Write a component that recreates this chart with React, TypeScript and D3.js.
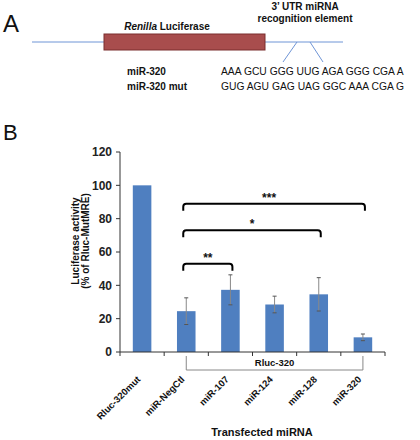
import React from 'react';
import * as d3 from 'd3';

// panel B data
const categories = ['Rluc-320mut', 'miR-NegCtl', 'miR-107', 'miR-124', 'miR-128', 'miR-320'];
const means = [100, 24.5, 37.3, 28.5, 34.6, 8.8];
const errors = [0, 8, 9, 5, 10, 2];
const yTicks = [0, 20, 40, 60, 80, 100, 120];
const brackets = [
  { from: 'miR-NegCtl', to: 'miR-107', level: 53, label: '**' },
  { from: 'miR-NegCtl', to: 'miR-128', level: 73, label: '*' },
  { from: 'miR-NegCtl', to: 'miR-320', level: 89, label: '***' },
];
const groupFrom = 'miR-NegCtl';
const groupTo = 'miR-320';
const groupLabel = 'Rluc-320';

// panel A text
const seqWild = 'AAA GCU GGG UUG AGA GGG CGA A';
const seqMut = 'GUG AGU GAG UAG GGC AAA CGA G';

const FONT = 'Liberation Sans, Arial, sans-serif';
const NARROW = '"Liberation Sans Narrow", "Arial Narrow", Liberation Sans, sans-serif';
const BLUE = '#4f7fc0';

export default function App() {
  const W = 420, H = 440;
  const left = 120, right = 385, top = 152, bottom = 352;

  const x = d3.scaleBand<string>().domain(categories).range([left, right])
    .paddingInner(0.58).paddingOuter(0.29);
  const y = d3.scaleLinear().domain([0, 120]).range([bottom, top]);
  const cx = (c: string) => (x(c) ?? 0) + x.bandwidth() / 2;
  const step = x.step();

  const bracketPath = (x1: number, x2: number, yy: number) => {
    const r = 3, leg = 7;
    return `M${x1},${yy + leg} L${x1},${yy + r} Q${x1},${yy} ${x1 + r},${yy} L${x2 - r},${yy} Q${x2},${yy} ${x2},${yy + r} L${x2},${yy + leg}`;
  };

  return (
    <svg width={W} height={H} style={{ position: 'absolute', left: 0, top: 0, background: '#fff' }}
      fontFamily={FONT}>
      {/* Panel A */}
      <text x={3} y={32} fontSize={24} fill="#111">A</text>
      <line x1={32} x2={343} y1={42} y2={42} stroke="#6f95d6" strokeWidth={1} />
      <rect x={104} y={34} width={161} height={16} fill="#a84d4d" stroke="#7a2e2e" strokeWidth={1} />
      <text x={167} y={30} fontSize={10} textAnchor="middle" fontWeight="bold" fill="#111">
        <tspan fontStyle="italic">Renilla</tspan> Luciferase
      </text>
      <text x={305} y={10} fontSize={10} textAnchor="middle" fontWeight="bold" fill="#111">3’ UTR miRNA</text>
      <text x={305} y={22} fontSize={10} textAnchor="middle" fontWeight="bold" fill="#111">recognition element</text>
      <line x1={297} y1={42} x2={283} y2={62} stroke="#6f95d6" strokeWidth={1} />
      <line x1={310} y1={42} x2={323} y2={62} stroke="#6f95d6" strokeWidth={1} />
      <text x={127} y={75} fontSize={10} fontWeight="bold" fill="#111">miR-320</text>
      <text x={127} y={90} fontSize={10} fontWeight="bold" fill="#111">miR-320 mut</text>
      <text x={221} y={75} fontSize={10.3} fill="#111">{seqWild}</text>
      <text x={221} y={90} fontSize={10.3} fill="#111">{seqMut}</text>

      {/* Panel B */}
      <text x={3} y={140} fontSize={22} fill="#111">B</text>

      {/* y axis */}
      <line x1={left} x2={left} y1={top} y2={bottom} stroke="#333" />
      {yTicks.map(t => (
        <g key={t}>
          <line x1={left - 4} x2={left} y1={y(t)} y2={y(t)} stroke="#333" />
          <text x={left - 8} y={y(t)} dy="0.35em" textAnchor="end" fontSize={12} fontWeight="bold"
            fontFamily={NARROW} fill="#222">{t}</text>
        </g>
      ))}
      <text transform={`translate(79,241) rotate(-90)`} textAnchor="middle"
        fontSize={10} fontWeight="bold" fill="#111">Luciferase activity</text>
      <text transform={`translate(89,241) rotate(-90)`} textAnchor="middle"
        fontSize={10} fontWeight="bold" fill="#111">(% of Rluc-MutMRE)</text>

      {/* bars */}
      {categories.map((c, i) => (
        <rect key={c} x={x(c)} y={y(means[i])} width={x.bandwidth()} height={bottom - y(means[i])}
          fill={BLUE} />
      ))}
      {/* error bars */}
      {categories.map((c, i) => errors[i] > 0 && (
        <g key={c} stroke="#555" strokeWidth={1}>
          <line x1={cx(c)} x2={cx(c)} y1={y(means[i] + errors[i])} y2={y(means[i] - errors[i])} stroke="#888" />
          <line x1={cx(c) - 2} x2={cx(c) + 2} y1={y(means[i] + errors[i])} y2={y(means[i] + errors[i])} />
          <line x1={cx(c) - 2} x2={cx(c) + 2} y1={y(means[i] - errors[i])} y2={y(means[i] - errors[i])} />
        </g>
      ))}

      {/* x axis */}
      <line x1={left} x2={right} y1={bottom} y2={bottom} stroke="#333" />
      {d3.range(categories.length + 1).map(k => (
        <line key={k} x1={left + k * step} x2={left + k * step} y1={bottom} y2={bottom + 4} stroke="#333" />
      ))}
      {categories.map(c => (
        <text key={c} transform={`translate(${cx(c) - 1},${bottom + 28}) rotate(-45)`} textAnchor="end"
          fontSize={9.5} fontWeight="bold" fontFamily={NARROW} fill="#111">{c}</text>
      ))}

      {/* group bracket under axis */}
      <path d={`M${cx(groupFrom)},${bottom + 4} L${cx(groupFrom)},${bottom + 18} L${cx(groupTo)},${bottom + 18} L${cx(groupTo)},${bottom + 4}`}
        fill="none" stroke="#888" strokeWidth={1} />
      <text x={(cx(groupFrom) + cx(groupTo)) / 2} y={bottom + 14} textAnchor="middle" fontSize={9.5}
        fontWeight="bold" fill="#111">{groupLabel}</text>

      {/* significance brackets */}
      {brackets.map(b => {
        const x1 = cx(b.from) - 3, x2 = cx(b.to) + 2, yy = y(b.level);
        const mid = (x1 + x2) / 2 - (b.label === '***' ? 5 : 0);
        return (
          <g key={b.label}>
            <path d={bracketPath(x1, x2, yy)} fill="none" stroke="#000" strokeWidth={2} />
            <text x={mid} y={yy - 2} textAnchor="middle"
              fontSize={12} fontWeight="bold" fill="#111">{b.label}</text>
          </g>
        );
      })}

      <text x={262} y={436} textAnchor="middle" fontSize={11} fontWeight="bold" fill="#111">Transfected miRNA</text>
    </svg>
  );
}
